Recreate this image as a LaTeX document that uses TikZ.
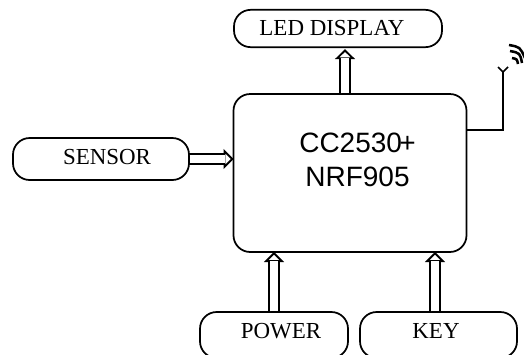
\documentclass[tikz,border=0pt]{standalone}
\usepackage{fontspec}
\setmainfont{Liberation Serif}
\newfontfamily\chipfont{Liberation Sans}
\usetikzlibrary{arrows.meta}
\tikzset{
	blockbox/.style={draw, line width=1.3pt, rounded corners=12.5pt, inner sep=0pt, outer sep=0pt},
	boxtext/.style={font=\fontsize{17.2}{20}\selectfont, inner sep=0pt},
	chiptext/.style={font=\chipfont\fontsize{21}{25}\selectfont, align=center, inner sep=0pt},
	busarrow/.style={line width=8.8pt, -{Triangle[open, fill=white, line width=1.4pt, length=7.5pt, width=15pt]},
		postaction={draw=white, line width=6pt, -, shorten >=6.5pt, shorten <=0.5pt}},
	wireline/.style={line width=1.3pt},
	waveline/.style={line width=1.9pt}
}
\begin{document}
\begin{tikzpicture}[x=0.75pt,y=-0.75pt]
	\useasboundingbox (0,0) rectangle (524,354);
	\clip (0,0) rectangle (524,354);
	% Blocks
	\node [blockbox, minimum width=156pt, minimum height=28pt] (led) at (338,28.5) {};
	\node [blockbox, minimum width=174.75pt, minimum height=118.5pt] (main) at (350,173) {};
	\node [blockbox, minimum width=132pt, minimum height=31.5pt] (sensor) at (101,159) {};
	\node [blockbox, minimum width=111pt, minimum height=34.5pt] (power) at (274,335) {};
	\node [blockbox, minimum width=117.75pt, minimum height=34.5pt] (key) at (438.5,335) {};
	% Block labels
	\node [boxtext] (ledtext) at (332,28.5) {LED DISPLAY};
	\node [boxtext] (sensortext) at (107,157) {SENSOR};
	\node [boxtext] (powertext) at (281,331) {POWER};
	\node [boxtext] (keytext) at (436,331) {KEY};
	\node [chiptext] (chiptext) at (357.5,160) {CC2530\kern-2pt+\\NRF905};
	% Bus arrows
	\coordinate (ledtap) at (345,94);
	\coordinate (keytap) at (435,312);
	\draw [busarrow] (ledtap) -- ([yshift=-1.5pt]ledtap |- led.south);
	\draw [busarrow] (sensor.east) -- (sensor.east -| main.west);
	\draw [busarrow] (power.north) -- (power.north |- main.south);
	\draw [busarrow] (keytap) -- (keytap |- main.south);
	% Antenna
	\coordinate (mast) at (503,130);
	\coordinate (masttop) at (503,72);
	\draw [wireline] (main.east |- mast) -- (mast) -- (masttop);
	\draw [wireline] (498,67) -- (masttop) -- (508,67);
	\draw [waveline] (509,45) .. controls (520,47) .. (525,58);
	\draw [waveline] (510,51) .. controls (520,53) .. (522,63);
	\draw [waveline] (512,58) .. controls (517,59) .. (518,64);
\end{tikzpicture}
\end{document}
